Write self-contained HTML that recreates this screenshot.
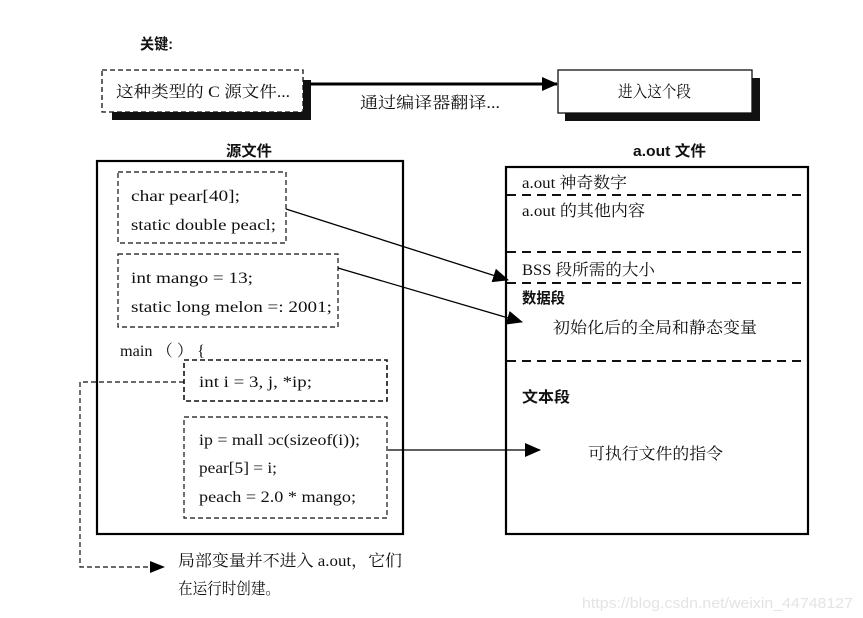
<!DOCTYPE html>
<html><head><meta charset="utf-8"><style>
html,body{margin:0;padding:0;background:#fff;}
svg{display:block;}
text{font-family:"Liberation Serif","Noto Serif CJK SC","Noto Sans CJK SC",serif;font-size:16px;fill:#111;}
.b{font-family:"Liberation Sans","Noto Sans CJK SC",sans-serif;font-weight:bold;font-size:15px;}
</style></head><body>
<svg width="863" height="618" viewBox="0 0 863 618" xmlns="http://www.w3.org/2000/svg">
<defs>
<marker id="ah2" markerWidth="16" markerHeight="14" refX="15" refY="7" orient="auto" markerUnits="userSpaceOnUse"><path d="M0,0 L16,7 L0,14 z" fill="#000"/></marker>
</defs>
<text class="b" x="140" y="49" textLength="33" lengthAdjust="spacingAndGlyphs">关键:</text>
<rect x="112" y="112" width="198" height="8" fill="#111"/>
<rect x="303" y="80" width="8" height="40" fill="#111"/>
<rect x="102" y="70" width="201" height="42" fill="#fff" stroke="#111" stroke-width="1.3" stroke-dasharray="5,3"/>
<text x="116" y="97" textLength="174" lengthAdjust="spacingAndGlyphs">这种类型的 C 源文件...</text>
<line x1="310" y1="84" x2="557" y2="84" stroke="#000" stroke-width="3" marker-end="url(#ah2)"/>
<text x="360" y="108" textLength="140" lengthAdjust="spacingAndGlyphs">通过编译器翻译...</text>
<rect x="565" y="113" width="195" height="8" fill="#111"/>
<rect x="752" y="78" width="8" height="43" fill="#111"/>
<rect x="558" y="70" width="194" height="43" fill="#fff" stroke="#111" stroke-width="1.3"/>
<text x="618" y="97" textLength="73" lengthAdjust="spacingAndGlyphs">进入这个段</text>
<text class="b" x="226" y="156" textLength="46" lengthAdjust="spacingAndGlyphs">源文件</text>
<rect x="97" y="161" width="306" height="373" fill="none" stroke="#000" stroke-width="2.2"/>
<g fill="none" stroke="#111" stroke-width="1.2" stroke-dasharray="5,3">
<rect x="118" y="172" width="168" height="71"/>
<rect x="118" y="254" width="220" height="73"/>
<rect x="184" y="360" width="203" height="41" stroke-width="1.6"/>
<rect x="184" y="417" width="203" height="101"/>
<path d="M184,382 H80 V567 H152"/>
</g>
<path d="M150,561 L165,567 L150,573 z" fill="#000"/>
<text x="131" y="201" textLength="109" lengthAdjust="spacingAndGlyphs">char pear[40];</text>
<text x="131" y="230" textLength="145" lengthAdjust="spacingAndGlyphs">static double peacl;</text>
<text x="131" y="283" textLength="122" lengthAdjust="spacingAndGlyphs">int mango = 13;</text>
<text x="131" y="312" textLength="201" lengthAdjust="spacingAndGlyphs">static long melon =: 2001;</text>
<text x="120" y="356" textLength="85" lengthAdjust="spacingAndGlyphs">main （ ）  {</text>
<text x="199" y="387" textLength="113" lengthAdjust="spacingAndGlyphs">int i = 3, j, *ip;</text>
<text x="199" y="445" textLength="161" lengthAdjust="spacingAndGlyphs">ip = mall ɔc(sizeof(i));</text>
<text x="199" y="473" textLength="78" lengthAdjust="spacingAndGlyphs">pear[5] = i;</text>
<text x="199" y="502" textLength="157" lengthAdjust="spacingAndGlyphs">peach = 2.0 * mango;</text>
<text x="178" y="566" textLength="224" lengthAdjust="spacingAndGlyphs">局部变量并不进入 a.out，它们</text>
<text x="178" y="594" textLength="102" lengthAdjust="spacingAndGlyphs">在运行时创建。</text>
<text class="b" x="633" y="156" textLength="73" lengthAdjust="spacingAndGlyphs">a.out 文件</text>
<rect x="506" y="167" width="302" height="367" fill="none" stroke="#000" stroke-width="2.2"/>
<g stroke="#111" stroke-width="2" stroke-dasharray="9,6">
<line x1="507" y1="195" x2="807" y2="195"/>
<line x1="507" y1="252" x2="807" y2="252"/>
<line x1="507" y1="283" x2="807" y2="283"/>
<line x1="507" y1="361" x2="807" y2="361"/>
</g>
<text x="522" y="188" textLength="105" lengthAdjust="spacingAndGlyphs">a.out 神奇数字</text>
<text x="522" y="216" textLength="123" lengthAdjust="spacingAndGlyphs">a.out 的其他内容</text>
<text x="522" y="275" textLength="133" lengthAdjust="spacingAndGlyphs">BSS 段所需的大小</text>
<text class="b" x="522" y="303" textLength="43" lengthAdjust="spacingAndGlyphs">数据段</text>
<text x="553" y="333" textLength="204" lengthAdjust="spacingAndGlyphs">初始化后的全局和静态变量</text>
<text class="b" x="522" y="402" textLength="48" lengthAdjust="spacingAndGlyphs">文本段</text>
<text x="588" y="459" textLength="135" lengthAdjust="spacingAndGlyphs">可执行文件的指令</text>
<line x1="286" y1="209" x2="508" y2="280" stroke="#000" stroke-width="1.3" marker-end="url(#ah2)"/>
<line x1="338" y1="268" x2="522" y2="322" stroke="#000" stroke-width="1.3" marker-end="url(#ah2)"/>
<line x1="388" y1="450" x2="540" y2="450" stroke="#000" stroke-width="1.3" marker-end="url(#ah2)"/>
<text x="582" y="608" textLength="271" lengthAdjust="spacingAndGlyphs" style="font-family:'Liberation Sans',sans-serif;font-size:15px;fill:#e4e4e4">https://blog.csdn.net/weixin_44748127</text>
</svg>
</body></html>
